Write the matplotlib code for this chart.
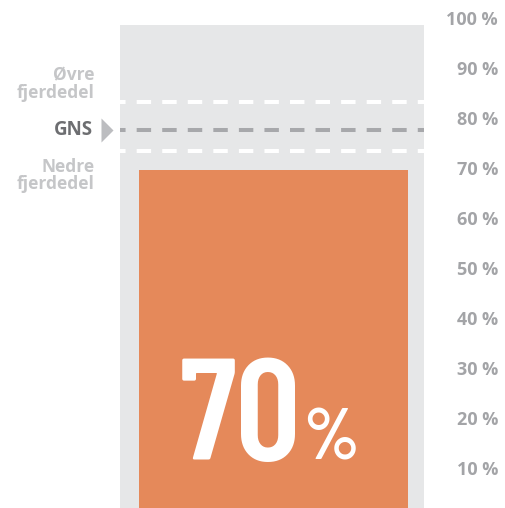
import matplotlib
matplotlib.use("Agg")
import matplotlib.pyplot as plt
from matplotlib import font_manager

# ---- data ----
value = 70            # respondent's value (%)
upper_quartile = 83.7 # Øvre fjerdedel
average = 78.0        # GNS
lower_quartile = 73.9 # Nedre fjerdedel
tick_values = [10, 20, 30, 40, 50, 60, 70, 80, 90, 100]
tick_labels = [f"{v} %" for v in tick_values]
label_upper = "Øvre\nfjerdedel"
label_avg = "GNS"
label_lower = "Nedre\nfjerdedel"

# ---- style ----
ORANGE = "#e5895a"
BG = "#e6e7e8"
TICK = "#a3a4a7"
LIGHT = "#c5c6c8"
DARK = "#6d6e71"

names = {f.name for f in font_manager.fontManager.ttflist}
label_font = [f for f in ["Open Sans", "DejaVu Sans"] if f in names]
big_font = [f for f in ["Barlow Condensed", "Roboto Condensed", "DejaVu Sans"] if f in names]
plt.rcParams["lines.scale_dashes"] = False

fig = plt.figure(figsize=(5.06, 5.08), dpi=100)
ax = fig.add_axes([0, 0, 1, 1])
ax.set_xlim(0, 506)
ax.set_ylim(2.4, 104)
ax.axis("off")

col_x0, col_x1 = 120, 424
bar_x0, bar_x1 = 138.7, 408

# background column
ax.bar((col_x0 + col_x1) / 2, 99, width=col_x1 - col_x0, color=BG, zorder=1)
# value bar
ax.bar((bar_x0 + bar_x1) / 2, value, width=bar_x1 - bar_x0, color=ORANGE, zorder=2)

# reference lines
for v, c in [(upper_quartile, "white"), (lower_quartile, "white"), (average, "#a7a8ab")]:
    ax.plot([col_x0, col_x1], [v, v], color=c, lw=2.9, linestyle=(6.4, (10.4, 8.0)),
            zorder=3, dash_capstyle="butt")

# right tick labels
for v, t in zip(tick_values, tick_labels):
    ax.text(498, v, t, ha="right", va="center", fontsize=13, color=TICK,
            fontweight="bold", family=label_font)

# left labels
ax.text(95, upper_quartile + 3.5, label_upper, ha="right", va="center", fontsize=12.5,
        color=LIGHT, fontweight="bold", family=label_font, linespacing=0.95)
ax.text(95, lower_quartile - 5.0, label_lower, ha="right", va="center", fontsize=12.5,
        color=LIGHT, fontweight="bold", family=label_font, linespacing=0.95)
ax.text(93, average, label_avg, ha="right", va="center", fontsize=13.5,
        color=DARK, fontweight="bold", family=label_font)
ax.plot([107.5], [average], marker=[(-0.5, -1), (0.5, 0), (-0.5, 1)], markersize=17.3,
        color="#bcbdc0", markeredgewidth=0, zorder=4)

# big value label
cx = (bar_x0 + bar_x1) / 2
ax.text(cx + 28, 12, f"{value}", ha="right", va="baseline", fontsize=104,
        color="white", fontweight=600, family=big_font, zorder=5)
ax.text(cx + 30, 12, "%", ha="left", va="baseline", fontsize=52,
        color="white", fontweight=600, family=big_font, zorder=5)

fig.savefig("out.png", dpi=100)
